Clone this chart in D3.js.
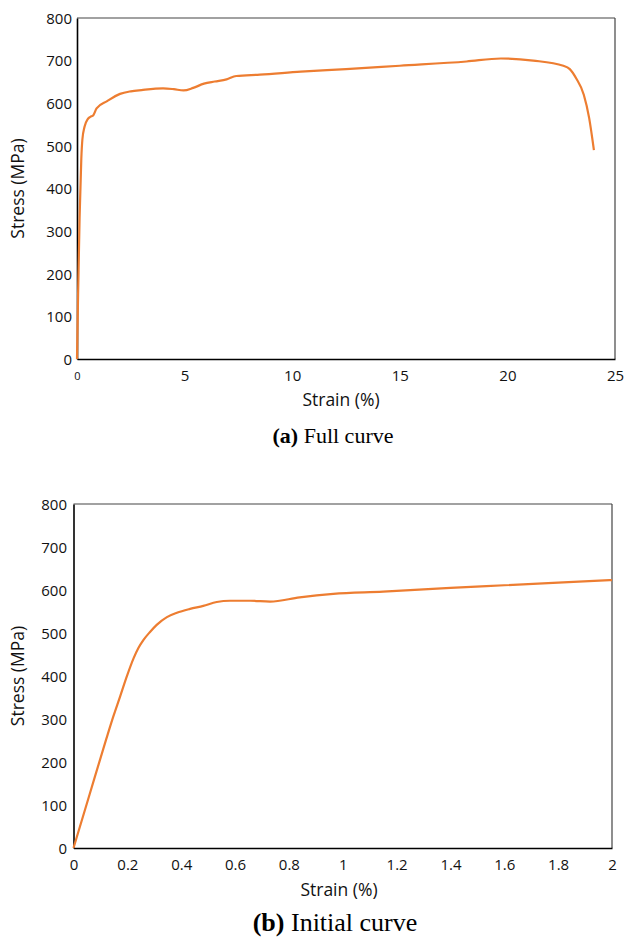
<!DOCTYPE html>
<html>
<head>
<meta charset="utf-8">
<script src="https://cdn.jsdelivr.net/npm/d3@7"></script>
<style>
  html, body { margin: 0; padding: 0; background: #fff; }
  svg { display: block; }
</style>
</head>
<body>
<svg id="chart" width="627" height="939"></svg>
<script>
// ---- Data: (a) Full curve ----
const fullStrain = [0, 0.05, 0.12, 0.2, 0.25, 0.35, 0.5, 0.62, 0.76, 0.91, 1.4, 2.0, 2.5, 3.0, 4.0, 4.5, 4.95, 5.4, 5.9, 6.4, 6.95, 7.4, 8.5, 10.4, 12.5, 15.0, 18.1, 19.7, 21.2, 22.6, 22.9, 23.2, 23.55, 23.8, 24.02];
const fullStress = [0, 150, 330, 470, 515, 545, 563, 568, 572, 588, 605, 622, 628, 631, 635, 633, 630, 636, 646, 651, 656, 664, 667, 674, 680, 688, 698, 705, 700, 688, 680, 658, 620, 565, 490];

// ---- Data: (b) Initial curve ----
const initStrain = [0, 0.06, 0.121, 0.148, 0.173, 0.198, 0.223, 0.241, 0.26, 0.285, 0.309, 0.347, 0.384, 0.433, 0.482, 0.532, 0.581, 0.656, 0.73, 0.84, 0.965, 1.15, 1.4, 1.6, 1.8, 2.0];
const initStress = [0, 125, 252, 306, 352, 399, 441, 465, 484, 503, 519, 537, 547, 556, 563, 572, 575, 575, 573, 583, 591, 596, 605, 611, 617, 623];

// ---- Tick labels ----
const yTicks = [0, 100, 200, 300, 400, 500, 600, 700, 800];
const xTicksA = [0, 5, 10, 15, 20, 25];
const xTicksB = [0, 0.2, 0.4, 0.6, 0.8, 1, 1.2, 1.4, 1.6, 1.8, 2];

const yTitle = "Stress (MPa)";
const xTitle = "Strain (%)";
const captionA = ["(a)", " Full curve"];
const captionB = ["(b)", " Initial curve"];

const svg = d3.select("#chart");
const lineColor = "#ED7D31";
const tickFont = "'Open Sans', sans-serif";

function drawPanel(cfg) {
  const { left, right, top, bottom, xDomain, xTicks, strain, stress, yLabelX, xLabelY,
          ytitleX, xtitleX, xtitleBase, caption, captionX, captionBase, captionSize, smallZero } = cfg;
  const x = d3.scaleLinear().domain(xDomain).range([left, right]);
  const y = d3.scaleLinear().domain([0, 800]).range([bottom, top]);
  const g = svg.append("g");

  // frame: top & right
  g.append("line").attr("x1", left).attr("x2", right).attr("y1", top).attr("y2", top)
    .attr("stroke", "#444").attr("stroke-width", 1.2);
  g.append("line").attr("x1", right).attr("x2", right).attr("y1", top).attr("y2", bottom)
    .attr("stroke", "#444").attr("stroke-width", 1.2);

  // axes
  const xAxis = d3.axisBottom(x).tickValues(xTicks).tickSize(0).tickFormat(d => String(d));
  const yAxis = d3.axisLeft(y).tickValues(yTicks).tickSize(0).tickFormat(d => String(d));

  const gx = g.append("g").attr("transform", `translate(0,${bottom})`).call(xAxis);
  gx.select(".domain").attr("stroke", "#000").attr("stroke-width", 1.6);
  gx.selectAll("text").attr("font-family", tickFont).attr("fill", "#111")
    .attr("y", xLabelY - bottom).attr("dy", "0.35em")
    .attr("font-size", d => (smallZero && d === 0) ? 11 : 15);

  const gy = g.append("g").attr("transform", `translate(${left},0)`).call(yAxis);
  gy.select(".domain").attr("stroke", "#000").attr("stroke-width", 1.6);
  gy.selectAll("text").attr("font-family", tickFont).attr("font-size", 15).attr("fill", "#111")
    .attr("x", yLabelX - left).attr("dy", "0.35em");

  // titles
  g.append("text").attr("transform", `translate(${ytitleX},${(top + bottom) / 2}) rotate(-90)`)
    .attr("text-anchor", "middle").attr("dy", "0.35em")
    .attr("font-family", tickFont).attr("font-size", 17.5).attr("fill", "#111").text(yTitle);
  g.append("text").attr("x", xtitleX).attr("y", xtitleBase)
    .attr("text-anchor", "middle")
    .attr("font-family", tickFont).attr("font-size", 17.5).attr("fill", "#111").text(xTitle);

  // curve
  const pts = strain.map((s, i) => [s, stress[i]]);
  const line = d3.line().x(d => x(d[0])).y(d => y(d[1])).curve(d3.curveMonotoneX);
  g.append("path").datum(pts).attr("d", line).attr("fill", "none")
    .attr("stroke", lineColor).attr("stroke-width", 2.2).attr("stroke-linejoin", "round");

  // caption
  const cap = g.append("text").attr("x", captionX).attr("y", captionBase)
    .attr("text-anchor", "middle").attr("font-family", "'Liberation Serif', 'Times New Roman', serif")
    .attr("font-size", captionSize).attr("fill", "#000");
  cap.append("tspan").attr("font-weight", "bold").text(caption[0]);
  cap.append("tspan").text(caption[1]);
}

drawPanel({
  left: 77, right: 615, top: 18, bottom: 359,
  xDomain: [0, 25], xTicks: xTicksA, strain: fullStrain, stress: fullStress,
  yLabelX: 72, xLabelY: 376, ytitleX: 18, xtitleX: 341, xtitleBase: 406,
  caption: captionA, captionX: 333, captionBase: 443, captionSize: 22, smallZero: true
});

drawPanel({
  left: 73.5, right: 612, top: 504, bottom: 848,
  xDomain: [0, 2], xTicks: xTicksB, strain: initStrain, stress: initStress,
  yLabelX: 67, xLabelY: 865, ytitleX: 18, xtitleX: 339, xtitleBase: 896,
  caption: captionB, captionX: 335, captionBase: 931, captionSize: 26, smallZero: false
});
</script>
</body>
</html>
